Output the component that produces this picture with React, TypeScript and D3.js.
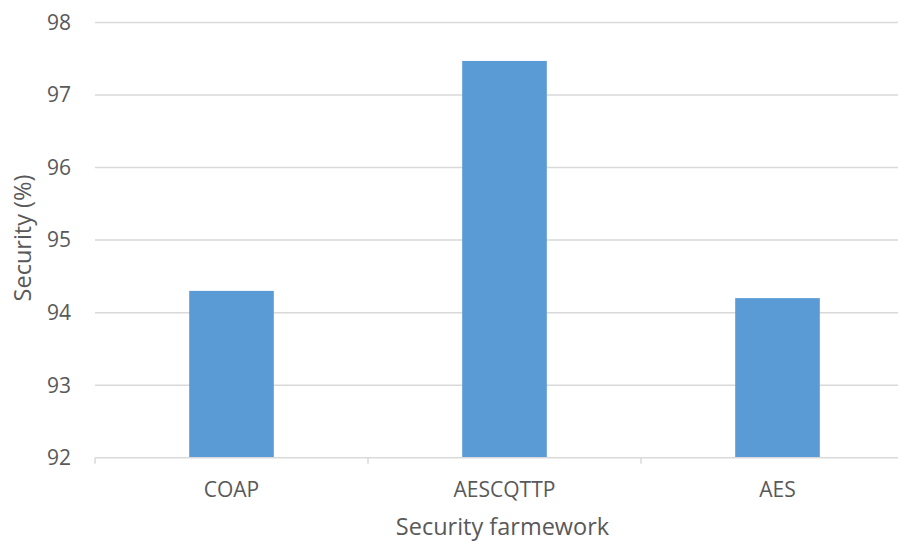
import React from "react";
import * as d3 from "d3";

const categories = ["COAP", "AESCQTTP", "AES"];
const securityValues = [94.3, 97.47, 94.2];
const yTicks = [92, 93, 94, 95, 96, 97, 98];
const xTitle = "Security farmework";
const yTitle = "Security (%)";

const W = 898;
const H = 542;
const left = 95;
const right = 914;
const top = 22.5;
const bottom = 457.7;
const font = "'Open Sans', 'Noto Sans', sans-serif";
const textColor = "#595959";
const gridColor = "#D9D9D9";
const barColor = "#5B9BD5";

export default function App() {
  const x = d3
    .scaleBand<string>()
    .domain(categories)
    .range([left, right])
    .paddingInner(0.69)
    .paddingOuter(0.345);
  const y = d3.scaleLinear().domain([92, 98]).range([bottom, top]);
  const step = x.step();
  const boundaries = d3.range(categories.length + 1).map((i) => left + i * step);

  return (
    <svg
      width={W}
      height={H}
      style={{ position: "absolute", left: 0, top: 0, background: "#fff" }}
    >
      <rect width={W} height={H} fill="#fff" />
      {yTicks.map((t) => (
        <g key={t}>
          {t !== 92 && (
            <line x1={left} x2={right} y1={y(t)} y2={y(t)} stroke={gridColor} strokeWidth={1.5} />
          )}
          <text
            x={71}
            y={y(t)}
            dy="0.35em"
            textAnchor="end"
            fontFamily={font}
            fontSize={21}
            fill={textColor}
          >
            {t}
          </text>
        </g>
      ))}
      {categories.map((c, i) => (
        <rect
          key={c}
          x={x(c)}
          y={y(securityValues[i])}
          width={x.bandwidth()}
          height={bottom - y(securityValues[i])}
          fill={barColor}
        />
      ))}
      <line x1={left} x2={right} y1={bottom} y2={bottom} stroke={gridColor} strokeWidth={1.5} />
      {boundaries.map((b, i) => (
        <line key={i} x1={b} x2={b} y1={bottom} y2={bottom + 6} stroke={gridColor} strokeWidth={1.5} />
      ))}
      {categories.map((c) => (
        <text
          key={c}
          x={(x(c) as number) + x.bandwidth() / 2}
          y={497}
          textAnchor="middle"
          fontFamily={font}
          fontSize={21}
          fill={textColor}
        >
          {c}
        </text>
      ))}
      <text
        x={502.5}
        y={535}
        textAnchor="middle"
        fontFamily={font}
        fontSize={23.5}
        fill={textColor}
      >
        {xTitle}
      </text>
      <text
        transform={`translate(31, 238) rotate(-90)`}
        textAnchor="middle"
        fontFamily={font}
        fontSize={23.5}
        fill={textColor}
      >
        {yTitle}
      </text>
    </svg>
  );
}
